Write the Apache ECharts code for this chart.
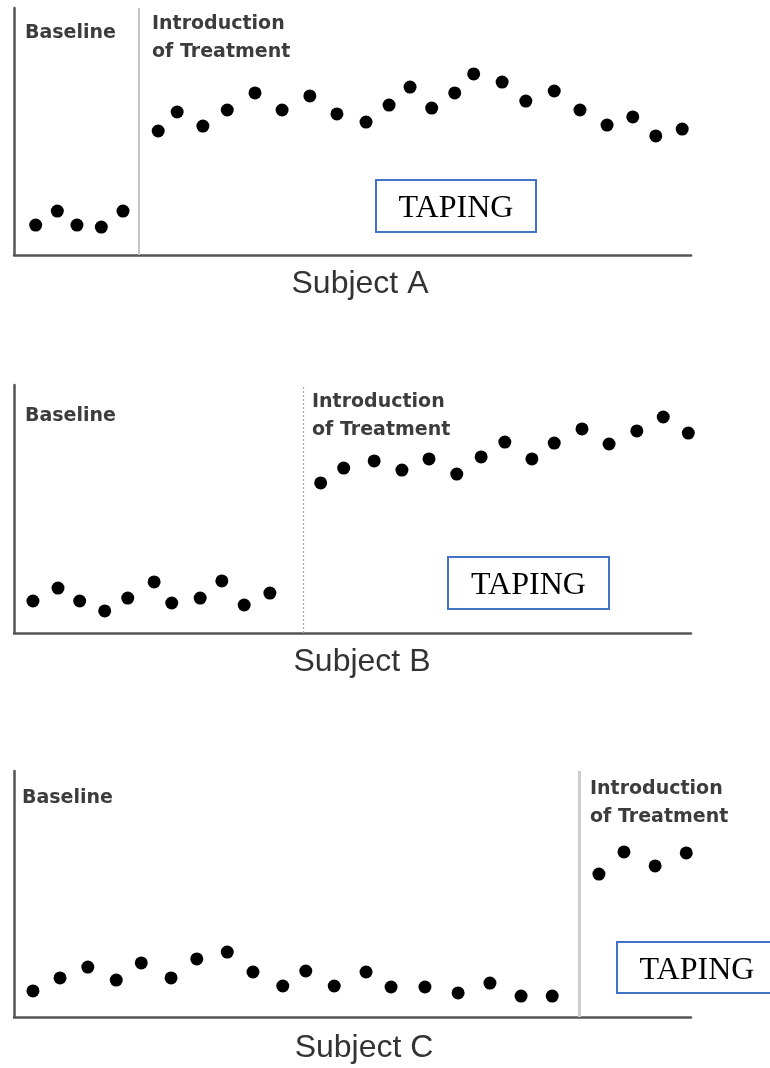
<!DOCTYPE html>
<html>
<head>
<meta charset="utf-8">
<script src="https://cdn.jsdelivr.net/npm/echarts@6/dist/echarts.min.js"></script>
<style>
  html, body { margin: 0; padding: 0; background: #fff; }
  #chart { width: 770px; height: 1068px; }
</style>
</head>
<body>
<div id="chart"></div>
<script>
// ---- Data (x: session time on a 0-100 scale, y: response level 0-100) ----
const subjects = ["Subject A", "Subject B", "Subject C"];
const phaseLabels = ["Baseline", "Introduction\nof Treatment"];
const boxLabel = "TAPING";

const baselineA_x = [3.2, 6.4, 9.3, 12.9, 16.1];
const baselineA_y = [12.1, 17.8, 12.1, 11.3, 17.8];
const treatmentA_x = [21.3, 24.1, 27.9, 31.5, 35.6, 39.6, 43.7, 47.7, 52.0, 55.4, 58.5, 61.7, 65.1, 67.9, 72.1, 75.6, 79.8, 83.6, 87.6, 91.4, 94.8, 98.7];
const treatmentA_y = [50.2, 57.9, 52.2, 58.7, 65.6, 58.7, 64.4, 57.1, 53.8, 60.7, 68.0, 59.5, 65.6, 73.3, 70.0, 62.3, 66.4, 58.7, 52.6, 55.9, 48.2, 51.0];
const phaseChangeA = 18.5;

const baselineB_x = [2.8, 6.5, 9.7, 13.4, 16.8, 20.7, 23.3, 27.5, 30.7, 34.0, 37.8];
const baselineB_y = [12.9, 18.1, 12.9, 8.9, 14.1, 20.6, 12.1, 14.1, 21.0, 11.3, 16.1];
const treatmentB_x = [45.3, 48.7, 53.2, 57.3, 61.3, 65.4, 69.0, 72.5, 76.5, 79.8, 83.9, 87.9, 92.0, 95.9, 99.6];
const treatmentB_y = [60.5, 66.5, 69.4, 65.7, 70.2, 64.1, 71.0, 77.0, 70.2, 76.6, 82.3, 76.2, 81.5, 87.1, 80.6];
const phaseChangeB = 42.7;

const baselineC_x = [2.8, 6.8, 10.9, 15.1, 18.8, 23.2, 27.0, 31.5, 35.3, 39.7, 43.1, 47.3, 52.0, 55.7, 60.7, 65.6, 70.3, 74.9, 79.5];
const baselineC_y = [10.6, 15.9, 20.3, 15.0, 22.0, 15.9, 23.6, 26.4, 18.3, 12.6, 18.7, 12.6, 18.3, 12.2, 12.2, 9.8, 13.8, 8.5, 8.5];
const treatmentC_x = [86.4, 90.1, 94.7, 99.3];
const treatmentC_y = [58.1, 67.1, 61.4, 66.7];
const phaseChangeC = 83.5;

// ---- Build ----
const zip = (xs, ys) => xs.map((x, i) => [x, ys[i]]);
const panels = [
  { top: 8,   height: 247, base: zip(baselineA_x, baselineA_y), treat: zip(treatmentA_x, treatmentA_y), phase: phaseChangeA,
    phaseStyle: { color: '#c4c4c4', width: 2, type: 'solid' } },
  { top: 385, height: 248, base: zip(baselineB_x, baselineB_y), treat: zip(treatmentB_x, treatmentB_y), phase: phaseChangeB,
    phaseStyle: { color: '#a8a8a8', width: 1.2, type: [2, 2] } },
  { top: 771, height: 246, base: zip(baselineC_x, baselineC_y), treat: zip(treatmentC_x, treatmentC_y), phase: phaseChangeC,
    phaseStyle: { color: '#cdcdcd', width: 3, type: 'solid' } }
];

const axisLine = { show: true, onZero: false, lineStyle: { color: '#555', width: 2.5 } };
const dotStyle = { color: '#000', opacity: 1 };
const grid = [], xAxis = [], yAxis = [], series = [];
panels.forEach((p, i) => {
  grid.push({ left: 14, width: 677, top: p.top, height: p.height });
  xAxis.push({ type: 'value', gridIndex: i, min: 0, max: 100, axisLine, axisTick: { show: false }, axisLabel: { show: false }, splitLine: { show: false } });
  yAxis.push({ type: 'value', gridIndex: i, min: 0, max: 100, axisLine, axisTick: { show: false }, axisLabel: { show: false }, splitLine: { show: false } });
  series.push({
    type: 'scatter', xAxisIndex: i, yAxisIndex: i, data: p.base,
    symbolSize: 13, itemStyle: dotStyle, z: 5
  });
  series.push({
    type: 'scatter', xAxisIndex: i, yAxisIndex: i, data: p.treat,
    symbolSize: 13, itemStyle: dotStyle, z: 5,
    markLine: {
      silent: true, symbol: ['none', 'none'], label: { show: false },
      lineStyle: p.phaseStyle, data: [{ xAxis: p.phase }], z: 1
    }
  });
});

// ---- Annotations ----
const labelFont = 'bold 19px "DejaVu Sans", sans-serif';
const labelColor = '#3c3c3c';
function txt(text, x, y, font, color, align) {
  return { type: 'text', x: x, y: y, z: 10, silent: true,
    style: { text: text, font: font, fill: color, textAlign: align || 'left', align: align || 'left',
             textVerticalAlign: 'middle', verticalAlign: 'middle', lineHeight: 28 } };
}
function box(x, y, w, h) {
  return [
    { type: 'rect', z: 9, silent: true, shape: { x: x, y: y, width: w, height: h },
      style: { fill: '#fff', stroke: '#4472c4', lineWidth: 2 } },
    txt(boxLabel, x + w / 2, y + h / 2 + 3, '32px "Liberation Serif", "Times New Roman", serif', '#000', 'center')
  ];
}

const graphic = [
  // Subject A
  txt(phaseLabels[0], 25, 33, labelFont, labelColor),
  txt(phaseLabels[1], 152, 38, labelFont, labelColor),
  ...box(376, 180, 160, 52),
  txt(subjects[0], 360, 284, '32px "Liberation Sans", Arial, sans-serif', '#333', 'center'),
  // Subject B
  txt(phaseLabels[0], 25, 416, labelFont, labelColor),
  txt(phaseLabels[1], 312, 416, labelFont, labelColor),
  ...box(448, 557, 161, 52),
  txt(subjects[1], 362, 662, '32px "Liberation Sans", Arial, sans-serif', '#333', 'center'),
  // Subject C
  txt(phaseLabels[0], 22, 798, labelFont, labelColor),
  txt(phaseLabels[1], 590, 803, labelFont, labelColor),
  ...box(617, 942, 160, 51),
  txt(subjects[2], 364, 1048, '32px "Liberation Sans", Arial, sans-serif', '#333', 'center')
];

const chart = echarts.init(document.getElementById('chart'), null, { renderer: 'canvas' });
chart.setOption({
  backgroundColor: '#fff',
  animation: false,
  grid, xAxis, yAxis, series, graphic
});
</script>
</body>
</html>
